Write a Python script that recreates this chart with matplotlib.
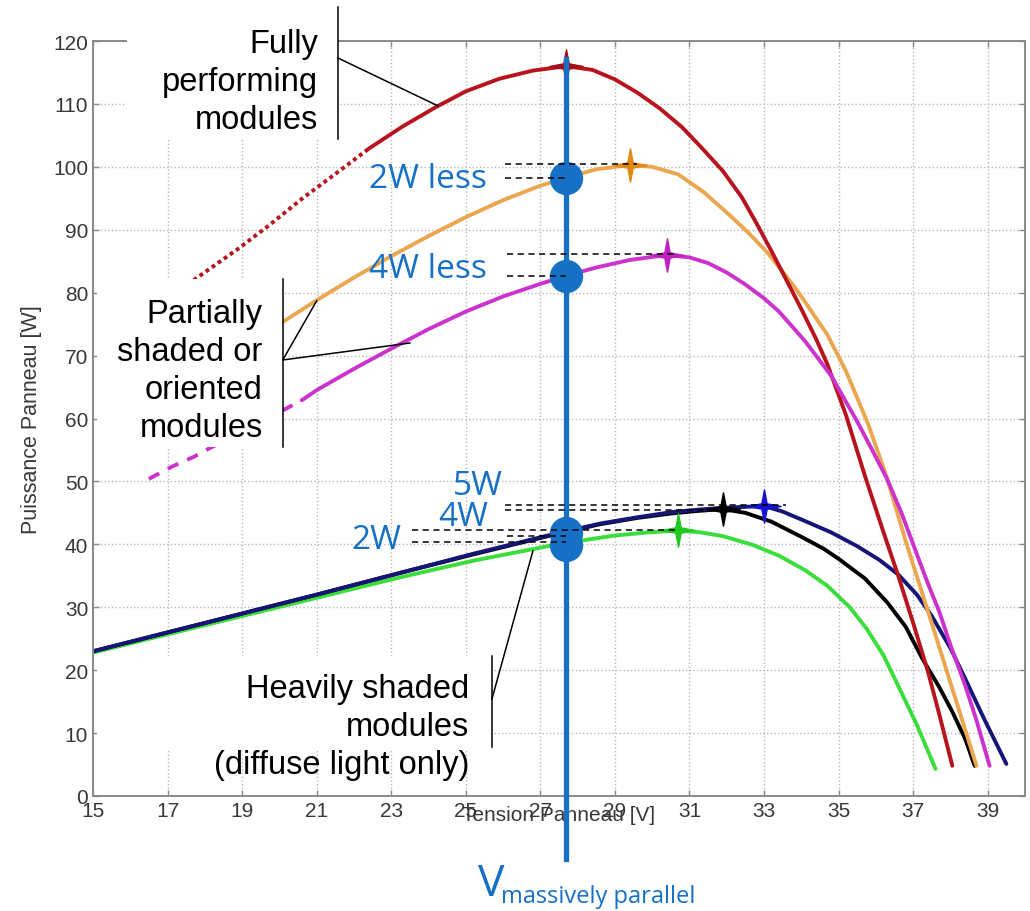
import matplotlib.pyplot as plt
import numpy as np
from matplotlib.path import Path
from matplotlib.patches import Rectangle

# P-V curves (voltage in V, power in W)
red_v = [17.7, 18.9, 19.7, 20.6, 21.8, 22.4, 23.3, 24.2, 25.0, 25.9, 26.8, 27.7, 28.4,
         29.0, 29.6, 30.2, 30.8, 31.3, 31.9, 32.4, 32.8, 33.2, 33.6, 34.0, 34.4, 34.7,
         35.2, 35.7, 36.2, 36.6, 37.0, 37.4, 37.7, 38.05]
red_p = [82.0, 87.0, 90.6, 94.9, 100.2, 102.9, 106.4, 109.5, 112.0, 114.0, 115.3, 116.0, 115.4,
         113.9, 111.8, 109.3, 106.3, 103.2, 99.3, 95.2, 91.0, 86.6, 82.0, 77.4, 72.6, 68.6,
         60.5, 51.0, 42.0, 35.0, 27.5, 19.7, 13.0, 4.8]

orange_v = [20.0, 21.0, 22.0, 23.0, 24.0, 25.0, 26.0, 27.0, 27.7, 28.5, 29.4, 30.0, 30.7,
            31.4, 32.1, 32.6, 33.1, 33.6, 34.0, 34.7, 35.2, 35.8, 36.3, 36.8, 37.4, 38.0,
            38.7]
orange_p = [75.0, 78.8, 82.4, 85.8, 89.0, 92.0, 94.7, 97.0, 98.3, 99.6, 100.3, 100.0, 98.8,
            95.9, 92.2, 89.4, 86.3, 82.6, 79.4, 73.3, 67.5, 59.0, 50.5, 40.5, 29.3, 18.0,
            4.8]

magenta_v = [16.5, 17.1, 17.7, 18.1, 19.0, 20.0, 20.6, 21.0, 22.0, 23.0, 24.0, 25.0, 26.0,
             27.0, 27.7, 28.5, 29.4, 30.4, 31.0, 31.5, 32.0, 32.5, 33.0, 33.4, 34.1, 34.8,
             35.5, 35.9, 36.3, 36.7, 37.0, 37.4, 37.7, 38.0, 38.4, 38.7, 39.05]
magenta_p = [50.4, 52.3, 53.9, 55.2, 57.9, 61.0, 62.9, 64.5, 67.9, 71.1, 74.2, 77.0, 79.4,
             81.4, 82.7, 84.0, 85.2, 86.0, 85.6, 84.7, 83.2, 81.3, 79.1, 77.0, 72.3, 66.8,
             59.5, 55.0, 50.4, 44.8, 40.0, 33.7, 29.3, 24.0, 17.5, 12.0, 4.8]

navy_v = [15.0, 17.0, 19.0, 21.0, 23.2, 25.2, 27.2, 28.6, 29.6, 30.5, 31.2, 31.9, 33.0,
          33.5, 34.1, 34.8, 35.5, 36.1, 36.6, 37.1, 37.5, 38.0, 38.4, 38.9, 39.5]
navy_p = [23.0, 26.0, 29.0, 32.0, 35.4, 38.5, 41.4, 43.3, 44.3, 45.1, 45.5, 45.8, 46.1,
          45.2, 43.7, 41.9, 39.7, 37.5, 35.2, 32.0, 28.6, 23.5, 18.6, 12.3, 5.1]

black_v = [15.0, 17.0, 19.0, 21.0, 23.2, 25.2, 27.2, 28.6, 29.6, 30.5, 31.2, 31.9, 32.5,
           33.2, 34.0, 34.6, 35.0, 35.7, 36.3, 36.8, 37.25, 37.7, 38.05, 38.4, 38.65]
black_p = [23.0, 26.0, 29.0, 32.0, 35.4, 38.4, 41.3, 43.2, 44.2, 44.9, 45.3, 45.6, 45.0,
           43.6, 41.2, 39.3, 37.7, 34.6, 30.8, 26.9, 21.8, 17.3, 13.4, 9.0, 4.8]

green_v = [15.0, 17.0, 19.0, 21.0, 23.2, 25.2, 27.2, 28.2, 29.0, 29.9, 30.7, 31.3, 31.9,
           32.7, 33.4, 34.1, 34.7, 35.3, 35.75, 36.2, 36.6, 37.1, 37.6]
green_p = [22.8, 25.7, 28.6, 31.5, 34.7, 37.4, 39.7, 40.7, 41.4, 41.9, 42.2, 41.9, 41.3,
           39.9, 38.2, 35.9, 33.4, 30.0, 26.6, 22.4, 17.5, 11.3, 4.3]

# maximum power points (stars)
mpp_v = [27.7, 29.4, 30.4, 31.9, 33.0, 30.7]
mpp_p = [116.0, 100.3, 86.0, 45.6, 46.1, 42.2]
mpp_colors = ['#a01018', '#e08a10', '#c020c0', '#000000', '#1414d0', '#22c822']

# massively parallel operating voltage and its operating points
v_par = 27.7
v_par_line = [117.2, -10.0]
op_p = [98.3, 82.7, 41.8, 39.9]

# dashed reference levels: power, start voltage, end voltage
dash_p = [100.4, 98.3, 86.2, 82.7, 46.2, 45.4, 42.3, 41.3, 40.4]
dash_v0 = [26.05, 26.05, 26.1, 26.1, 26.05, 26.05, 23.55, 26.1, 23.55]
dash_v1 = [29.6, 27.65, 30.7, 27.7, 33.6, 31.9, 30.66, 27.7, 27.7]

x_ticks = list(range(15, 40, 2))
y_ticks = list(range(0, 121, 10))

BLUE = '#1670c6'
GREY = '#383838'

fig = plt.figure(figsize=(10.3, 9.12), dpi=100)
ax = fig.add_axes([93 / 1030, 1 - 797 / 912, 932 / 1030, 755 / 912])
ax.set_xlim(15, 40)
ax.set_ylim(0, 120)
ax.set_xticks(x_ticks)
ax.set_yticks(y_ticks)
ax.grid(True, linestyle=':', color='#b8b8b8', linewidth=1.0)
ax.set_axisbelow(True)
ax.tick_params(direction='in', top=True, right=True, length=4, width=1,
               color='#8a8a8a', labelsize=15, labelcolor=GREY, pad=3.5)
for lab in ax.get_xticklabels() + ax.get_yticklabels():
    lab.set_family('Liberation Sans')
for s in ax.spines.values():
    s.set_color('#8a8a8a')
    s.set_linewidth(1.4)

lw = 2.8
# curves, bottom to top
ax.plot(green_v, green_p, color='#3ade3a', lw=lw, zorder=2.0, solid_capstyle='round')
ax.plot(black_v, black_p, color='#000000', lw=lw, zorder=2.1, solid_capstyle='round')
ax.plot(navy_v, navy_p, color='#151578', lw=lw, zorder=2.2, solid_capstyle='round')
ax.plot(orange_v, orange_p, color='#eba650', lw=lw, zorder=2.3, solid_capstyle='round')

rv, rp = np.array(red_v), np.array(red_p)
ax.plot(rv[rv <= 22.4], rp[rv <= 22.4], color='#b8141e', lw=lw, zorder=2.4,
        linestyle=(0, (1.0, 0.9)))
ax.plot(rv[rv >= 22.4], rp[rv >= 22.4], color='#b8141e', lw=lw, zorder=2.4,
        solid_capstyle='round')

mv, mp = np.array(magenta_v), np.array(magenta_p)
ax.plot(mv[mv <= 20.6], mp[mv <= 20.6], color='#cc33cc', lw=lw, zorder=2.5,
        linestyle=(0, (3, 2.5)))
ax.plot(mv[mv >= 20.6], mp[mv >= 20.6], color='#cc33cc', lw=lw, zorder=2.5,
        solid_capstyle='round')

star = Path([(0, 1), (0.16, 0.16), (1, 0), (0.16, -0.16), (0, -1), (-0.16, -0.16),
             (-1, 0), (-0.16, 0.16), (0, 1)],
            [Path.MOVETO] + [Path.LINETO] * 7 + [Path.CLOSEPOLY])
for v, p, c in zip(mpp_v, mpp_p, mpp_colors):
    ax.plot(v, p, marker=star, ms=24, color=c, mec=c, zorder=2.6, linestyle='none')

# white boxes behind the annotations (cover grid and curve parts as in the original)
ax.add_patch(Rectangle((15.91, 104.4), 5.66, 22.5, facecolor='white', edgecolor='none',
                       zorder=4, clip_on=False))
ax.add_patch(Rectangle((15.1, 55.5), 5.0, 26.7, facecolor='white', edgecolor='none',
                       zorder=4, clip_on=False))
ax.add_patch(Rectangle((15.1, 7.5), 10.6, 14.8, facecolor='white', edgecolor='none',
                       zorder=4, clip_on=False))

# bracket and leader lines
ax.plot([21.57, 21.57], [125.4, 104.45], color='black', lw=1.1, zorder=5, clip_on=False)
ax.plot([21.57, 24.25], [117.3, 109.7], color='black', lw=1.1, zorder=5, clip_on=False)
ax.plot([20.09, 20.09], [82.2, 55.5], color='black', lw=1.1, zorder=5)
ax.plot([21.0, 20.09, 23.5], [78.7, 69.3, 72.0], color='black', lw=1.1, zorder=5)
ax.plot([25.7, 25.7], [22.26, 7.8], color='black', lw=1.1, zorder=5)
ax.plot([25.7, 26.8], [15.4, 38.95], color='black', lw=1.1, zorder=5)

txt = dict(family='Liberation Sans', fontsize=23.5, color='black', ha='right',
           va='center', multialignment='right', linespacing=1.3, zorder=6)
ax.text(21.03, 113.6, 'Fully\nperforming\nmodules', **txt)
ax.text(19.55, 67.6, 'Partially\nshaded or\noriented\nmodules', **txt)
ax.text(25.1, 11.0, 'Heavily shaded\nmodules\n(diffuse light only)', **txt)

# massively parallel operating line, points and dashed levels
ax.plot([v_par, v_par], v_par_line, color=BLUE, lw=3.8, zorder=7, clip_on=False)
ax.plot([v_par] * len(op_p), op_p, 'o', color=BLUE, ms=23, zorder=8)
for p, a, b in zip(dash_p, dash_v0, dash_v1):
    ax.plot([a, b], [p, p], color='black', lw=1.1, linestyle=(0, (4, 3)), zorder=9)

btxt = dict(family='Open Sans', fontsize=24, color=BLUE, ha='right', va='center', zorder=10)
ax.text(25.56, 98.1, '2W less', **btxt)
ax.text(25.56, 83.8, '4W less', **btxt)
ax.text(26.0, 49.4, '5W', **btxt)
ax.text(25.6, 44.5, '4W', **btxt)
ax.text(23.28, 40.7, '2W', **btxt)

ax.text(27.5, -2.9, 'Tension Panneau [V]', family='Liberation Sans', fontsize=15,
        color=GREY, ha='center', va='center')
ax.set_ylabel('Puissance Panneau [W]', family='Liberation Sans', fontsize=15.5,
              color=GREY, labelpad=8)

fig.text(478 / 1030, 1 - 896 / 912, 'V', family='Open Sans', fontsize=32, color=BLUE,
         ha='left', va='baseline')
fig.text(501 / 1030, 1 - 903 / 912, 'massively parallel', family='Open Sans', fontsize=17,
         color=BLUE, ha='left', va='baseline')

fig.savefig('out.png', dpi=100)
